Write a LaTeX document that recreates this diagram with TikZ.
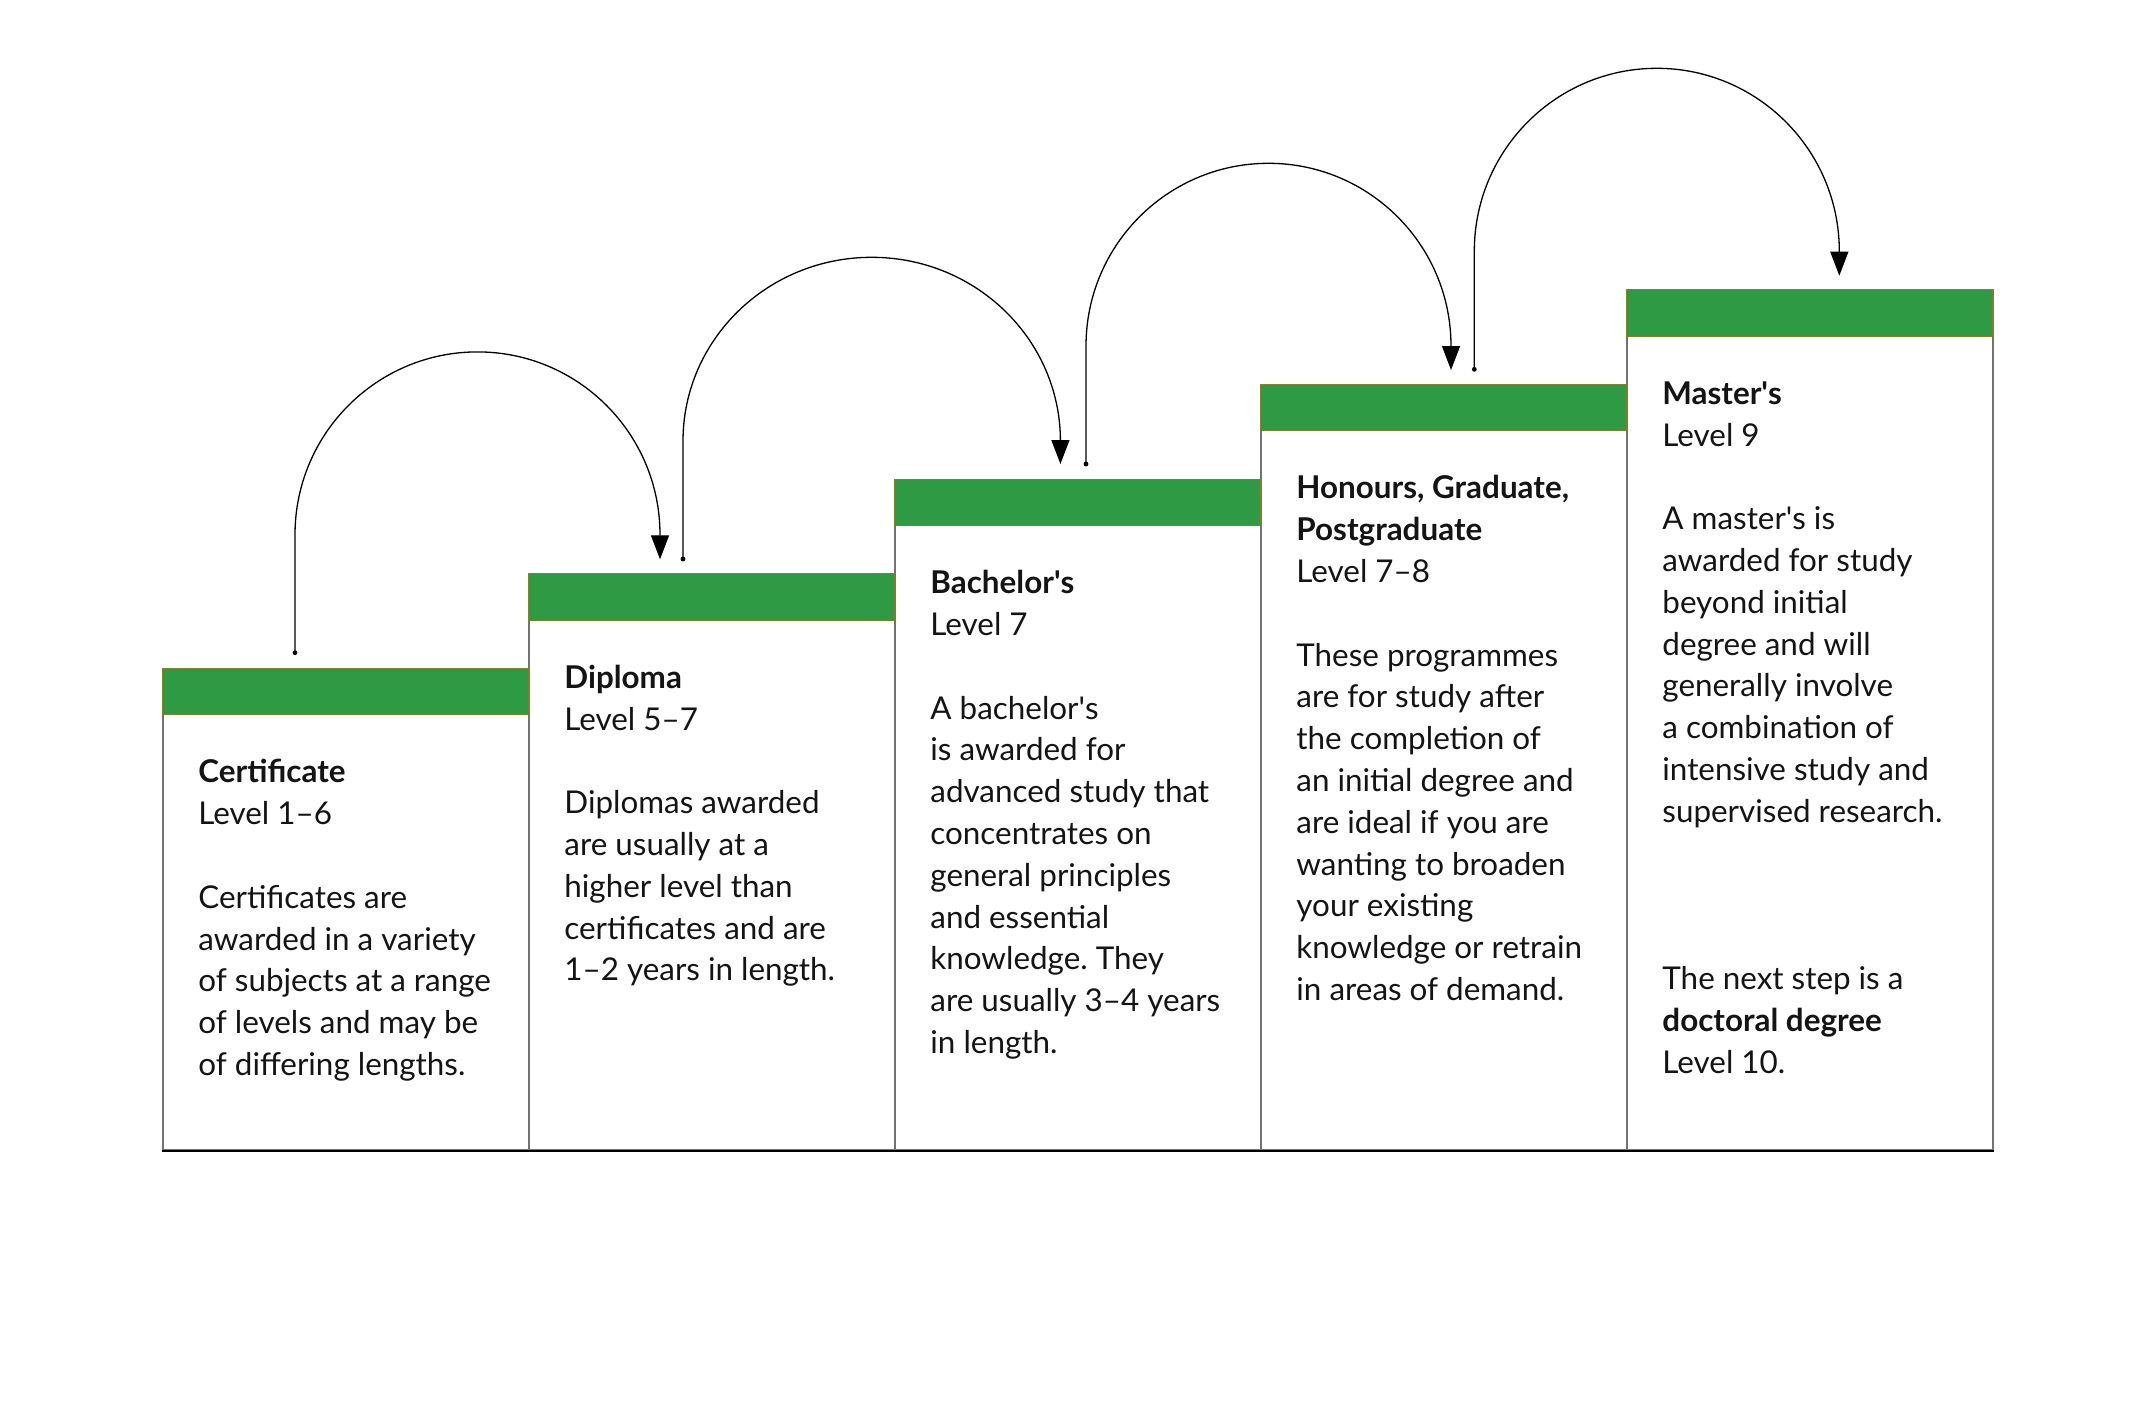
\documentclass[tikz,border=0pt]{standalone}
\usepackage{fontspec}
\setmainfont{Lato}
\usetikzlibrary{arrows.meta}
\definecolor{stepgreen}{RGB}{46,154,68}
\definecolor{bandline}{RGB}{125,130,45}
\definecolor{edgegray}{RGB}{115,115,115}
\definecolor{inkc}{RGB}{20,20,20}
\newcommand{\aps}{\textquotesingle}
\newcommand{\boxtext}[1]{\begin{minipage}[t]{175pt}\raggedright\frenchspacing\fontsize{15.7}{20.9}\selectfont #1\end{minipage}}
\begin{document}
\begin{tikzpicture}[x=0.5pt,y=-0.5pt,
 stepbox/.style={draw=edgegray,line width=0.75pt,fill=white,minimum width=183pt,inner sep=0pt,anchor=north west,rectangle},
 band/.style={fill=stepgreen,draw=bandline,line width=0.5pt,minimum width=183pt,minimum height=23.25pt,inner sep=0pt,anchor=north west,rectangle},
 txt/.style={anchor=base west,inner sep=0pt,text=inkc},
 conn/.style={line width=0.65pt,-{Triangle[length=12pt,width=9pt]}},
 dotc/.style={circle,fill=black,inner sep=0pt,minimum size=2.4pt}
]
\useasboundingbox[fill=white] (0,0) rectangle (2150,1409);

% boxes
\node[stepbox,minimum height=240.75pt] (b1) at (162,667.8) {};
\node[stepbox,minimum height=288.05pt] (b2) at (528,573.2) {};
\node[stepbox,minimum height=335.35pt] (b3) at (894,478.6) {};
\node[stepbox,minimum height=382.7pt] (b4) at (1260,383.9) {};
\node[stepbox,minimum height=430pt] (b5) at (1626,289.3) {};
\foreach \i in {1,...,5}{
  \node[band] (g\i) at (b\i.north west) {};
  \draw[black,line width=0.75pt] (b\i.south west) -- (b\i.south east);
}

% texts
\node[txt] (t1) at (198,782.8) {\boxtext{\textbf{Certificate}\\Level 1–6\\[20.9pt]Certificates are\\awarded in a variety\\of subjects at a range\\of levels and may be\\of differing lengths.}};
\node[txt] (t2) at (564,688.2) {\boxtext{\textbf{Diploma}\\Level 5–7\\[20.9pt]Diplomas awarded\\are usually at a\\higher level than\\certificates and are\\1–2 years in length.}};
\node[txt] (t3) at (930,593.6) {\boxtext{\textbf{Bachelor\aps s}\\Level 7\\[20.9pt]A bachelor\aps s\\is awarded for\\advanced study that\\concentrates on\\general principles\\and essential\\knowledge. They\\are usually 3–4 years\\in length.}};
\node[txt] (t4) at (1296,498.9) {\boxtext{\textbf{Honours, Graduate,}\\\textbf{Postgraduate}\\Level 7–8\\[20.9pt]These programmes\\are for study after\\the completion of\\an initial degree and\\are ideal if you are\\wanting to broaden\\your existing\\knowledge or retrain\\in areas of demand.}};
\node[txt] (t5) at (1662,404.3) {\boxtext{\textbf{Master\aps s}\\Level 9\\[20.9pt]A master\aps s is\\awarded for study\\beyond initial\\degree and will\\generally involve\\a combination of\\intensive study and\\supervised research.\\[62.7pt]The next step is a\\\textbf{doctoral degree}\\Level 10.}};

% connectors
\node[dotc] (s1) at (295,652.7) {};
\node[dotc] (s2) at (683,559) {};
\node[dotc] (s3) at (1086,464) {};
\node[dotc] (s4) at (1474.3,369.3) {};
\coordinate (e1) at (660,559.3);
\coordinate (e2) at (1060.4,464);
\coordinate (e3) at (1451,370);
\coordinate (e4) at (1839.3,275.7);
\draw[conn] (s1.center) -- ++(0,-118) arc[start angle=180,end angle=0,x radius=91.25pt,y radius=91.4pt] -- (e1);
\draw[conn] (s2.center) -- ++(0,-118) arc[start angle=180,end angle=0,x radius=94.35pt,y radius=91.85pt] -- (e2);
\draw[conn] (s3.center) -- ++(0,-118) arc[start angle=180,end angle=0,x radius=91.25pt,y radius=91.35pt] -- (e3);
\draw[conn] (s4.center) -- ++(0,-118) arc[start angle=180,end angle=0,x radius=91.25pt,y radius=91.5pt] -- (e4);
\end{tikzpicture}
\end{document}
